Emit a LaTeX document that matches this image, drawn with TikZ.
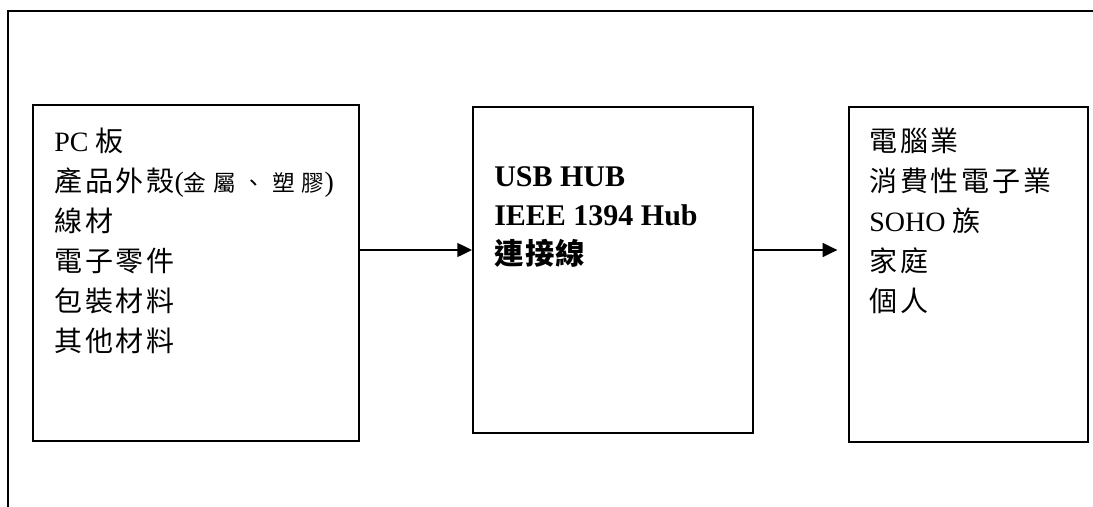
\documentclass[tikz,border=0pt]{standalone}
\usepackage{fontspec}
\setmainfont{Liberation Serif}
\newfontfamily\zh[LetterSpace=10]{Noto Sans CJK TC}
\newfontfamily\zhs[LetterSpace=30]{Noto Sans CJK TC}
\newfontfamily\zhb[LetterSpace=5]{Noto Sans CJK TC}
\newcommand\zt[1]{{\fontsize{21}{30}\selectfont\zh #1}}
\newcommand\zts[1]{{\fontsize{17}{30}\selectfont\zhs #1}}
\newcommand\ztb[1]{{\fontsize{22}{29.25}\selectfont\bfseries\zhb #1}}
\usetikzlibrary{arrows.meta,positioning}
\tikzset{
  box/.style={draw, line width=1.5pt, inner sep=0pt},
  list/.style={align=left, inner sep=0pt, anchor=north west, font=\fontsize{21}{30}\selectfont},
  arr/.style={-{Triangle[length=11pt,width=10.5pt]}, line width=1pt}
}
\begin{document}
\begin{tikzpicture}[x=0.75pt,y=-0.75pt]
    \useasboundingbox (0,0) rectangle (1093,507);

    % Draw the frame
    \draw[line width=1.5pt] (1093,11) -- (8,11) -- (8,507);

    % Draw the three boxes
    \node[box, minimum width=244.5pt, minimum height=252pt] (src) at (196,273) {};
    \node[box, minimum width=210pt, minimum height=244.5pt] (hub) at (613,270) {};
    \node[box, minimum width=179.25pt, minimum height=251.25pt] (mkt) at (968.5,274.5) {};

    % Texts inside the boxes
    \node[list] (srclist) at ([shift={(22,24)}]src.north west)
        {PC \zt{板}\\ \zt{產品外殼}(\zts{金屬、塑膠})\\ \zt{線材}\\ \zt{電子零件}\\ \zt{包裝材料}\\ \zt{其他材料}};
    \node[list, font=\fontsize{22.5}{29.25}\selectfont\bfseries] (hublist) at ([shift={(22,60)}]hub.north west)
        {USB HUB\\ IEEE 1394 Hub\\ \ztb{連接線}};
    \node[list] (mktlist) at ([shift={(21,22)}]mkt.north west)
        {\zt{電腦業}\\ \zt{消費性電子業}\\ SOHO \zt{族}\\ \zt{家庭}\\ \zt{個人}};

    % Draw the arrows
    \coordinate (mid) at (0,250);
    \coordinate (mktin) at ([xshift=-8pt]mkt.west);
    \draw[arr] (src.east |- mid) -- (hub.west |- mid);
    \draw[arr] (hub.east |- mid) -- (mktin |- mid);

\end{tikzpicture}
\end{document}
